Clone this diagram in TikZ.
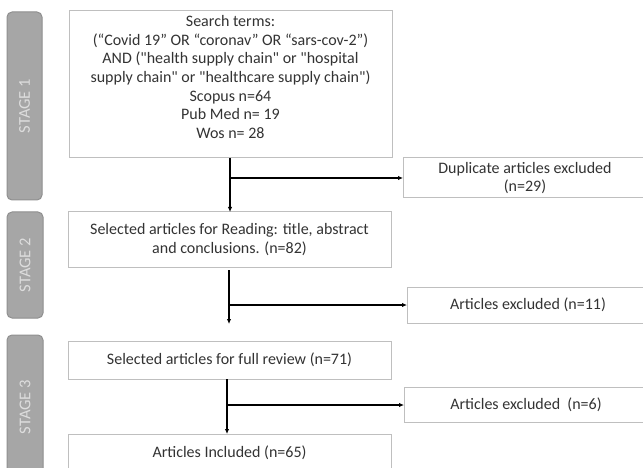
\documentclass[tikz,border=0pt]{standalone}
\usepackage{fontspec}
\setmainfont{Carlito}
\newfontfamily\calib{Carlito}
\usetikzlibrary{arrows.meta}
\definecolor{boxline}{HTML}{BFBFBF}
\definecolor{txt}{HTML}{333333}
\definecolor{tabfill}{HTML}{A6A6A6}
\definecolor{tabline}{HTML}{8F8F8F}
\definecolor{tabtxt}{HTML}{DDDDDD}
\begin{document}
\begin{tikzpicture}[x=1pt,y=-1pt,
  box/.style={draw=boxline, line width=1pt, fill=white, text=txt,
    font=\calib\fontsize{16}{18.7}\selectfont, align=center, inner sep=0pt, outer sep=0pt},
  boxtext/.style={text=txt, font=\calib\fontsize{16}{18.7}\selectfont, align=center, inner sep=0pt},
  tab/.style={draw=tabline, fill=tabfill, rounded corners=5pt, line width=1pt,
    rotate=90, text=tabtxt, font=\calib\fontsize{16.5}{18}\selectfont, inner sep=0pt},
  tablabel/.style={text=tabtxt, rotate=90, font=\calib\fontsize{16.5}{18}\selectfont, inner sep=0pt},
  arr/.style={line width=1.2pt, draw=black, -{Latex[length=5pt,width=4.5pt]}}]
\useasboundingbox (0,0) rectangle (643,468);
\clip (0,0) rectangle (643,468);
\fill[white] (0,0) rectangle (643,468);

% stage tabs
\node[tab, minimum width=188pt, minimum height=35pt] (s1) at (24.5,106) {STAGE 1};
\node[tab, minimum width=106pt, minimum height=36pt] (s2) at (25,265) {STAGE 2};
\node[tab, minimum width=150pt, minimum height=36pt] (s3) at (25,410) {};
\node[tablabel] (s3t) at (25,407) {STAGE 3};

% main boxes
\node[box, minimum width=323pt, minimum height=147pt] (b1) at (230.5,84.5) {};
\node[boxtext] (b1t) at (230.5,77) {Search terms:\\
(“Covid 19” OR “coronav” OR “sars-cov-2”)\\
AND ("health supply chain" or "hospital\\
supply chain" or "healthcare supply chain")\\
Scopus n=64\\
Pub Med n= 19\\
Wos n= 28};
\node[box, minimum width=323pt, minimum height=55pt] (b2) at (229.5,239.5)
  {Selected articles for Reading: title, abstract\\and conclusions. (n=82)};
\node[box, minimum width=323pt, minimum height=38pt] (b3) at (229.5,360)
  {Selected articles for full review (n=71)};
\node[box, minimum width=323pt, minimum height=38pt] (b4) at (229.5,453)
  {Articles Included (n=65)};

% exclusion boxes
\node[box, minimum width=244pt, minimum height=40pt] (dup) at (525,178)
  {Duplicate articles excluded\\(n=29)};
\node[box, minimum width=242pt, minimum height=36pt] (ex1) at (528,305)
  {Articles excluded (n=11)};
\node[box, minimum width=244pt, minimum height=35pt] (ex2) at (526,405)
  {Articles excluded\ \ (n=6)};

% connectors
\coordinate (a1s) at (230,158);
\draw[arr] (a1s) -- (a1s |- b2.north);
\draw[arr] (a1s |- dup.west) -- (dup.west);

\coordinate (a2s) at (229,270);
\coordinate (a2e) at (229,324);
\draw[arr] (a2s) -- (a2e);
\draw[arr] (a2s |- ex1.west) -- (ex1.west);

\coordinate (a3s) at (227,379);
\draw[arr] (a3s) -- (a3s |- b4.north);
\draw[arr] (a3s |- ex2.west) -- (ex2.west);
\end{tikzpicture}
\end{document}
